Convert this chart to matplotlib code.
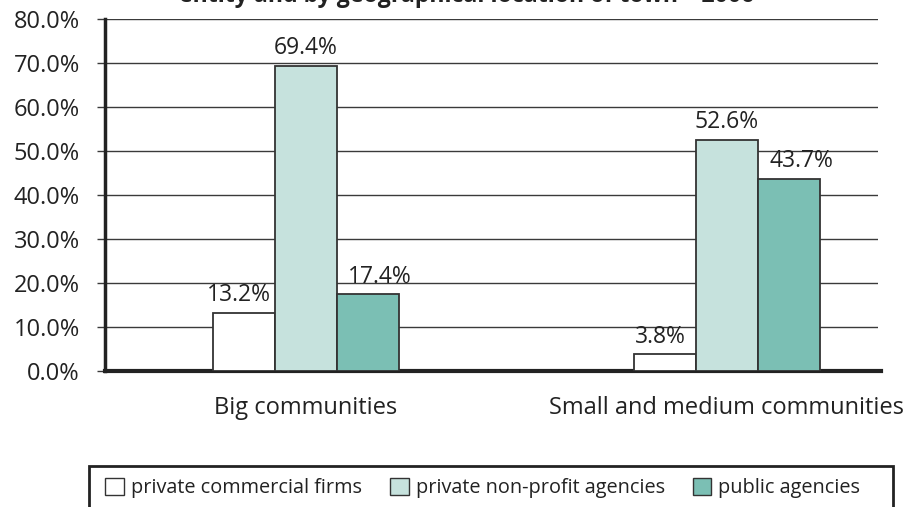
import matplotlib.pyplot as plt
import matplotlib.patches as mpatches
import numpy as np

plt.rcParams['font.family'] = ['Open Sans', 'DejaVu Sans']

# Share of services by ownership entity, per town size (2006)
categories = ['Big communities', 'Small and medium communities']
series_names = ['private commercial firms', 'private non-profit agencies', 'public agencies']
commercial = [13.2, 3.8]
non_profit = [69.4, 52.6]
public = [17.4, 43.7]
y_ticks = [0, 10, 20, 30, 40, 50, 60, 70, 80]

colors = ['#ffffff', '#c6e2dd', '#7bbfb4']
edge = '#333333'
# small horizontal nudges of the value labels (points)
label_dx = [-3.5, 0, 9]

fig = plt.figure(figsize=(9.11, 5.07), dpi=100)
ax = fig.add_axes([105 / 911, 1 - 371 / 507, 773 / 911, 352 / 507])

x = np.arange(len(categories))
width = 0.147
for i, (vals, col) in enumerate(zip([commercial, non_profit, public], colors)):
    bars = ax.bar(x + (i - 1) * width, vals, width, color=col, edgecolor=edge,
                  linewidth=1.3, zorder=3, label=series_names[i])
    for b, v in zip(bars, vals):
        ax.annotate(f'{v:.1f}%', (b.get_x() + b.get_width() / 2, v),
                    xytext=(label_dx[i], 4), textcoords='offset points',
                    ha='center', va='bottom', fontsize=16.5, color='#222222')

ax.set_xlim(-0.477, 1.359)
ax.set_ylim(0, 80)
ax.set_yticks(y_ticks)
ax.set_yticklabels([f'{t:.1f}%' for t in y_ticks])
ax.set_xticks(x)
ax.set_xticklabels(categories)

ax.grid(axis='y', color='#3a3a3a', linewidth=1.0, zorder=0)
ax.tick_params(axis='y', length=6, width=1.0, color='#3a3a3a', pad=12,
               labelsize=17, labelcolor='#222222')
ax.tick_params(axis='x', length=0, pad=18, labelsize=17, labelcolor='#222222')
for s in ['top', 'right']:
    ax.spines[s].set_visible(False)
ax.spines['left'].set_linewidth(2.5)
ax.spines['left'].set_color('#222222')
ax.spines['bottom'].set_linewidth(3)
ax.spines['bottom'].set_color('#222222')
ax.spines['bottom'].set_bounds(-0.477, 1.366)

# title, mostly cut off at the top edge
fig.text(0.512, 1 - 2.5 / 507, 'entity and by geographical location of town \u2013 2006',
         ha='center', va='baseline', fontsize=16.7, fontweight='bold',
         color='#222222')

# legend frame running off the bottom edge
frame = mpatches.Rectangle((89 / 911, -0.05), (893 - 89) / 911, 0.05 + 1 - 466 / 507,
                           transform=fig.transFigure, fill=False,
                           edgecolor='#222222', linewidth=2.0)
fig.add_artist(frame)
handles = [mpatches.Patch(facecolor=c, edgecolor=edge, linewidth=1.0) for c in colors]
fig.legend(handles, series_names, loc='center', bbox_to_anchor=(0.53, 1 - 488 / 507),
           ncol=3, frameon=False, fontsize=14.3, handlelength=0.95, handleheight=1.0,
           handletextpad=0.35, columnspacing=1.4, labelcolor='#222222')

fig.savefig('out.png', dpi=100)
